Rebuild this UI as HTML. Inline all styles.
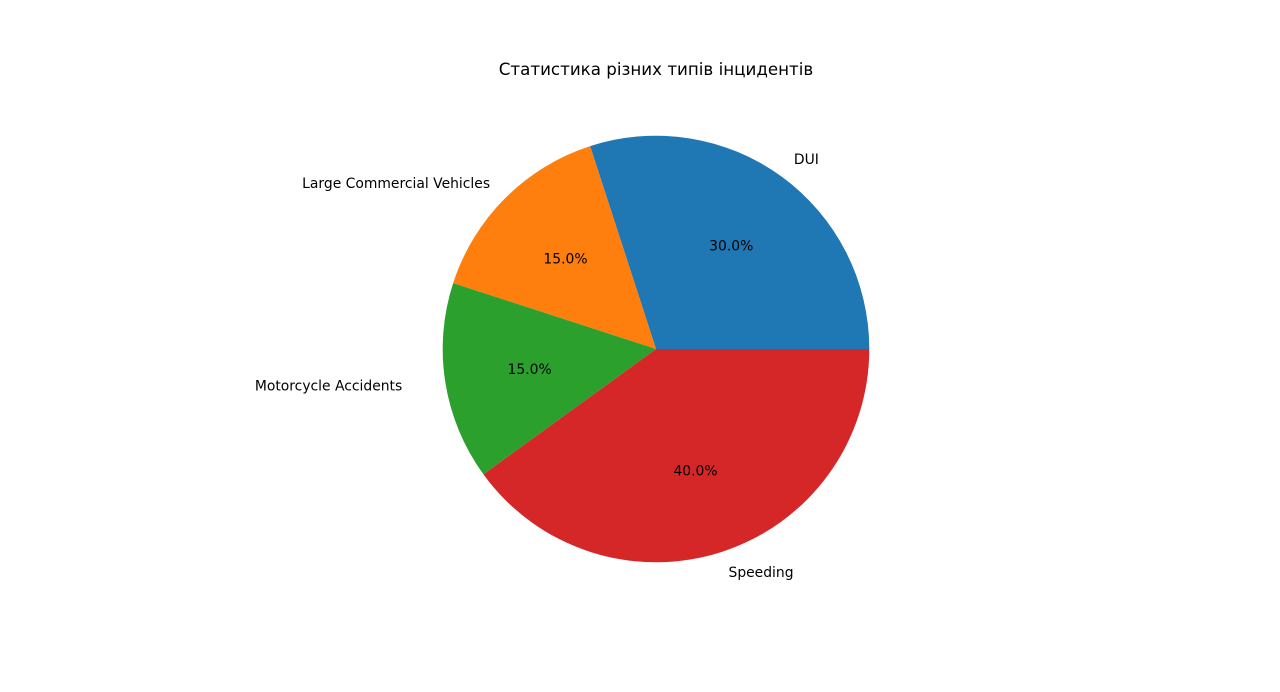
<!DOCTYPE html>
<html><head><meta charset="utf-8"><style>
html,body{margin:0;padding:0;background:#fff;}
svg{display:block;font-family:"DejaVu Sans","Liberation Sans",sans-serif;}
</style></head><body>
<svg id="chart" width="1280" height="692" viewBox="0 0 1280 692">
<rect width="1280" height="692" fill="#fff"/>
<text x="656" y="75" font-size="16.7" text-anchor="middle" fill="#000">Статистика різних типів інцидентів</text>
<g id="slices"></g>
<g id="labels"></g>
</svg>
<script>
const categories = ["DUI", "Large Commercial Vehicles", "Motorcycle Accidents", "Speeding"];
const values = [30, 15, 15, 40];
const colors = ["#1f77b4", "#ff7f0e", "#2ca02c", "#d62728"];
const labelPad = [0, 0, 22, 0];

const cx = 656, cy = 349, r = 213.3;
const NS = "http://www.w3.org/2000/svg";
const total = values.reduce((a, b) => a + b, 0);
const gS = document.getElementById("slices");
const gL = document.getElementById("labels");
function pt(ang, rad) { return [cx + rad * Math.cos(ang), cy - rad * Math.sin(ang)]; }
let start = 0;
values.forEach((v, i) => {
  const frac = v / total;
  const a0 = start * 2 * Math.PI, a1 = (start + frac) * 2 * Math.PI;
  const [x0, y0] = pt(a0, r), [x1, y1] = pt(a1, r);
  const large = frac > 0.5 ? 1 : 0;
  const p = document.createElementNS(NS, "path");
  p.setAttribute("d", `M${cx},${cy} L${x0},${y0} A${r},${r} 0 ${large} 0 ${x1},${y1} Z`);
  p.setAttribute("fill", colors[i]);
  
  
  gS.appendChild(p);
  const mid = (a0 + a1) / 2;
  const [lx, ly] = pt(mid, r * 1.1);
  const t = document.createElementNS(NS, "text");
  const right = Math.cos(mid) > 0;
  t.setAttribute("x", right ? lx + labelPad[i] : lx - labelPad[i]);
  t.setAttribute("y", ly + 1);
  t.setAttribute("font-size", "13.9");
  t.setAttribute("dominant-baseline", "central");
  t.setAttribute("text-anchor", right ? "start" : "end");
  t.textContent = categories[i];
  
  
  gL.appendChild(t);
  const [px, py] = pt(mid, r * 0.6);
  const q = document.createElementNS(NS, "text");
  q.setAttribute("x", px);
  q.setAttribute("y", py + 1);
  q.setAttribute("font-size", "13.9");
  q.setAttribute("dominant-baseline", "central");
  q.setAttribute("text-anchor", "middle");
  q.textContent = (frac * 100).toFixed(1) + "%";
  
  
  gL.appendChild(q);
  start += frac;
});
</script>
</body></html>
